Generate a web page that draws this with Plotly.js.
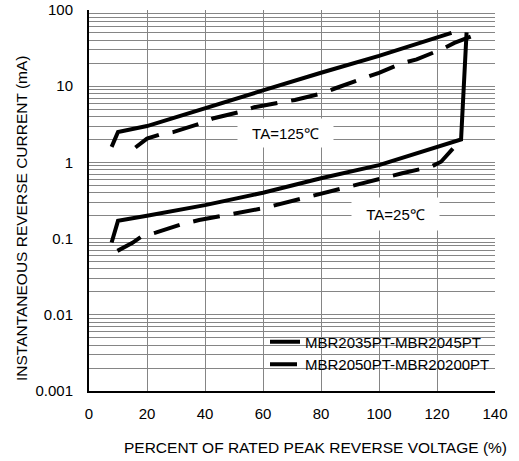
<!DOCTYPE html>
<html>
<head>
<meta charset="utf-8">
<script src="https://cdn.plot.ly/plotly-3.0.1.min.js"></script>
<style>html,body{margin:0;padding:0;background:#fff;}#chart{width:519px;height:461px;}</style>
</head>
<body>
<div id="chart"></div>
<script>
// Data (x: % of rated peak reverse voltage, y: mA)
const solid125X = [7.8, 10, 20, 40, 60, 80, 100, 125];
const solid125Y = [1.6, 2.5, 3.0, 5.2, 8.8, 15, 25, 50];
const dashed125X = [16, 20, 25, 29, 38, 43, 52, 57, 71, 80, 85, 95, 100, 108, 113, 122, 126, 135];
const dashed125Y = [1.57, 2.05, 2.35, 2.5, 3.2, 3.8, 4.6, 5.3, 6.6, 8.0, 9.4, 12.6, 15, 20, 22.5, 31, 37, 50];
const solid25X = [7.8, 10, 20, 40, 60, 80, 100, 128.3, 130.2];
const solid25Y = [0.089, 0.171, 0.2, 0.275, 0.4, 0.62, 0.92, 2.0, 51];
const dashed25X = [9.8, 15, 18, 23, 32, 38, 60, 80, 100, 108, 118, 121.4, 128.3];
const dashed25Y = [0.069, 0.088, 0.106, 0.12, 0.155, 0.175, 0.25, 0.39, 0.6, 0.72, 0.88, 1.02, 2.0];

const xTickVals = [0, 20, 40, 60, 80, 100, 120, 140];
const yDecades = [0.001, 0.01, 0.1, 1, 10, 100];
const yDecadeLabels = ['0.001', '0.01', '0.1', '1', '10', '100'];
const legendNames = ['MBR2035PT-MBR2045PT', 'MBR2050PT-MBR20200PT'];
const tempLabels = ['TA=125\u2103', 'TA=25\u2103'];

// gridline positions on log axis: 1..9 per decade
const yGridVals = [], yGridText = [];
yDecades.forEach((d, i) => {
  yGridVals.push(d); yGridText.push(yDecadeLabels[i]);
  if (d < 100) for (let m = 2; m <= 9; m++) { yGridVals.push(d * m); yGridText.push(''); }
});

const FONT = 'Liberation Sans, Arial, sans-serif';
const solidLine = {color: '#000', width: 4};
const dashLine = {color: '#000', width: 4, dash: '27px,14px'};

const traces = [
  {x: solid125X, y: solid125Y, mode: 'lines', line: solidLine, name: legendNames[0], legendgroup: 'a', showlegend: true, hoverinfo: 'skip'},
  {x: dashed125X, y: dashed125Y, mode: 'lines', line: dashLine, name: legendNames[1], legendgroup: 'b', showlegend: true, hoverinfo: 'skip'},
  {x: solid25X, y: solid25Y, mode: 'lines', line: solidLine, name: legendNames[0], legendgroup: 'a', showlegend: false, hoverinfo: 'skip'},
  {x: dashed25X, y: dashed25Y, mode: 'lines', line: dashLine, name: legendNames[1], legendgroup: 'b', showlegend: false, hoverinfo: 'skip'}
];

const layout = {
  width: 519, height: 461,
  margin: {l: 89, r: 24, t: 10, b: 70},
  paper_bgcolor: '#fff', plot_bgcolor: '#fff',
  font: {family: FONT, size: 15, color: '#000'},
  showlegend: true,
  legend: {
    x: 1, xanchor: 'right', y: 0.172, yanchor: 'top',
    bgcolor: 'rgba(0,0,0,0)', borderwidth: 0,
    font: {family: FONT, size: 15, color: '#000'},
    tracegroupgap: 0, itemwidth: 30
  },
  xaxis: {
    range: [0, 140], tickvals: xTickVals, ticktext: xTickVals.map(String),
    showgrid: true, gridcolor: '#858585', gridwidth: 1,
    showline: true, linecolor: '#000', linewidth: 2,
    zeroline: false, ticks: '', ticklabelstandoff: 8,
    tickfont: {family: FONT, size: 15, color: '#000'}
  },
  yaxis: {
    type: 'log', range: [-3, 2], tickvals: yGridVals, ticktext: yGridText,
    showgrid: true, gridcolor: '#858585', gridwidth: 1,
    showline: true, linecolor: '#000', linewidth: 2,
    zeroline: false, ticks: '', ticklabelstandoff: 11,
    tickfont: {family: FONT, size: 15, color: '#000'}
  },
  shapes: [
    {type: 'rect', xref: 'paper', yref: 'paper', x0: 0.37, x1: 0.997, y0: 0.004, y1: 0.143,
     fillcolor: '#fff', line: {width: 0}, layer: 'between'}
  ],
  annotations: [
    {x: 67.8, y: 0.385, xref: 'x', yref: 'y', text: tempLabels[0], showarrow: false,
     width: 93, height: 26, bgcolor: '#fff', font: {family: FONT, size: 15, color: '#000'}},
    {x: 105.7, y: -0.672, xref: 'x', yref: 'y', text: tempLabels[1], showarrow: false,
     width: 85, height: 30, bgcolor: '#fff', font: {family: FONT, size: 15, color: '#000'}},
    {x: 0.559, y: -0.1496, xref: 'paper', yref: 'paper', text: 'PERCENT OF RATED PEAK REVERSE VOLTAGE (%)',
     showarrow: false, xanchor: 'center', yanchor: 'middle', font: {family: FONT, size: 15.5, color: '#000'}},
    {x: -0.1675, y: 0.454, xref: 'paper', yref: 'paper', text: 'INSTANTANEOUS REVERSE CURRENT (mA)',
     showarrow: false, textangle: -90, xanchor: 'center', yanchor: 'middle', font: {family: FONT, size: 15.5, color: '#000'}}
  ]
};

Plotly.newPlot('chart', traces, layout, {staticPlot: true, displayModeBar: false});
</script>
</body>
</html>
